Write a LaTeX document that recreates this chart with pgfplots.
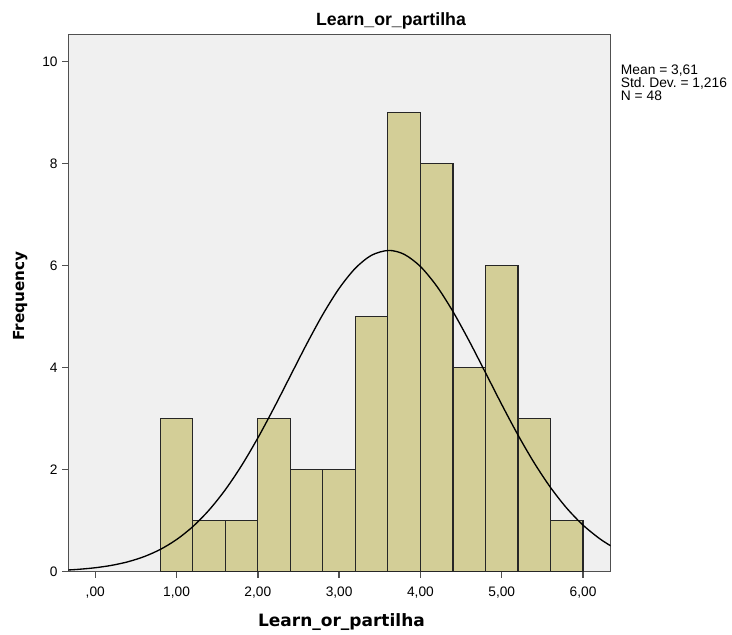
\documentclass[border=0pt]{standalone}
\usepackage{pgfplots}
\pgfplotsset{compat=1.18}
\usepackage{fontspec}
\setmainfont{Liberation Sans}
\newfontfamily\dejavu{DejaVu Sans}
\frenchspacing
\definecolor{bgc}{RGB}{240,240,240}
\definecolor{barc}{RGB}{211,206,151}
\definecolor{framec}{RGB}{80,80,80}
\begin{document}
\begin{tikzpicture}
\path[use as bounding box] (0,0) rectangle (549pt,476.25pt);
\begin{axis}[
  at={(51.2pt,47.5pt)}, anchor=south west,
  scale only axis, width=406.8pt, height=402.75pt,
  xmin=-0.332, xmax=6.34, ymin=0, ymax=10.53,
  axis background/.style={fill=bgc},
  axis line style={draw=framec, line width=1.1pt},
  xtick={0,1,2,3,4,5,6},
  xticklabels={{,00},{1,00},{2,00},{3,00},{4,00},{5,00},{6,00}},
  ytick={0,2,4,6,8,10},
  tick align=outside, tick pos=left,
  major tick length=4.5pt,
  tick style={draw=framec, line width=1.1pt},
  ticklabel style={font=\fontsize{10.3}{12}\selectfont},
  /pgf/number format/assume math mode=true,
  xticklabel style={yshift=-3.5pt},
]
\addplot[ybar interval, fill=barc, draw=black!85, line width=0.85pt] coordinates {
 (0.8,3) (1.2,1) (1.6,1) (2.0,3) (2.4,2) (2.8,2) (3.2,5) (3.6,9) (4.0,8) (4.4,4) (4.8,6) (5.2,3) (5.6,1) (6.0,1)
};
\addplot[black, line width=1pt, smooth, no marks] coordinates {
 (-0.33,0.0331) (-0.2,0.0465) (0.0,0.0768) (0.2,0.1235) (0.4,0.1932) (0.6,0.2942)
 (0.8,0.4360) (1.0,0.6293) (1.2,0.8837) (1.4,1.2081) (1.6,1.6070) (1.8,2.0805)
 (2.0,2.6219) (2.2,3.2160) (2.4,3.8393) (2.6,4.4614) (2.8,5.0457) (3.0,5.5545)
 (3.2,5.9511) (3.4,6.2059) (3.61,6.2991) (3.8,6.2227) (4.0,5.9833) (4.2,5.5996)
 (4.4,5.1006) (4.6,4.5220) (4.8,3.9025) (5.0,3.2775) (5.2,2.6792) (5.4,2.1319)
 (5.6,1.6509) (5.8,1.2444) (6.0,0.9130) (6.2,0.6519) (6.34,0.5066)
};
\end{axis}
\node[anchor=base, font=\bfseries\fontsize{13.3}{16}\selectfont] at (293.25pt,456.75pt) {Learn\_or\_partilha};
\node[anchor=base, font=\dejavu\bfseries\fontsize{12.75}{15}\selectfont, inner sep=0pt] at (256.1pt,6.2pt) {Learn\_or\_partilha};
\node[anchor=base, rotate=90, font=\dejavu\bfseries\fontsize{11.4}{14}\selectfont, inner sep=0pt] at (18pt,254.25pt) {Frequency};
\node[anchor=base west, align=left, inner sep=0pt, font=\fontsize{10.35}{12}\selectfont] at (465.5pt,400.5pt) {Mean = 3,61\\[-2pt]Std. Dev. = 1,216\\[-2pt]N = 48};
\end{tikzpicture}
\end{document}
